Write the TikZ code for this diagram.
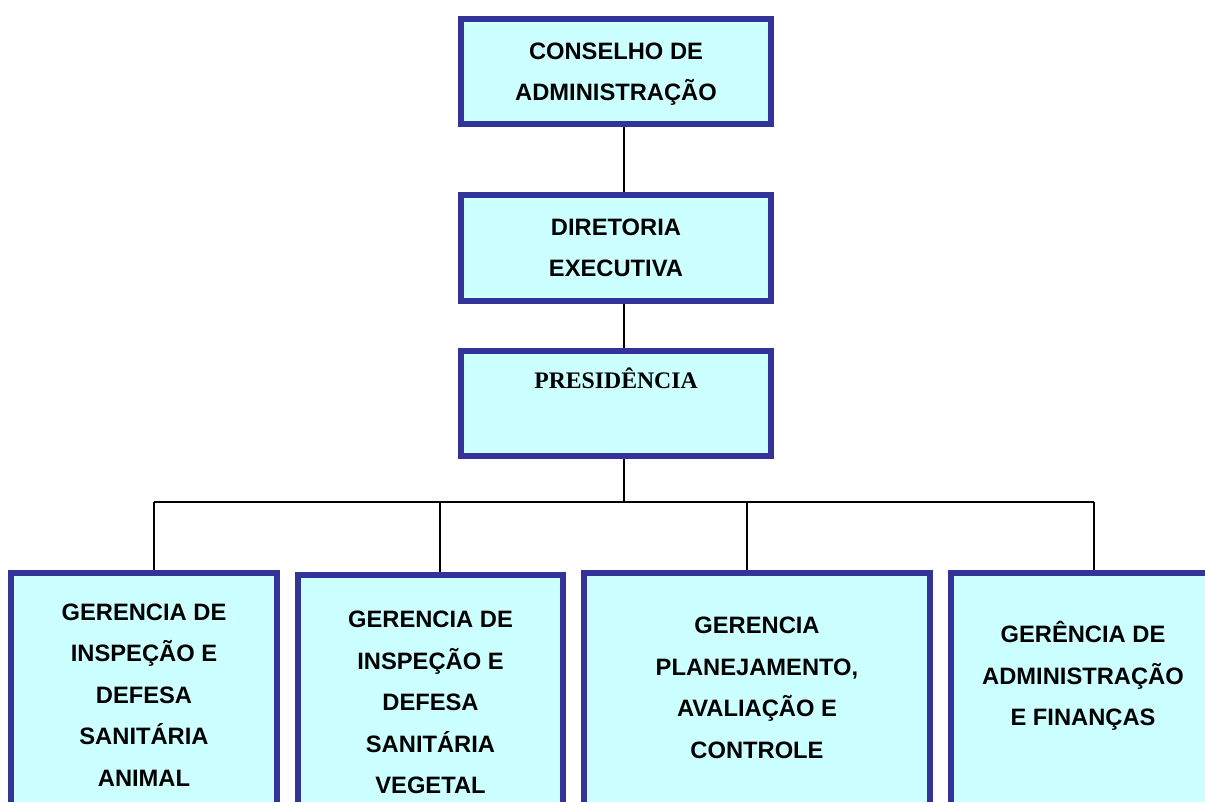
\documentclass[tikz,border=0pt]{standalone}
\usepackage{fontspec}
\setmainfont{Liberation Sans}
\newfontfamily\serifbf{Liberation Serif}
\usepackage{xcolor}
\usetikzlibrary{positioning}
\definecolor{boxfill}{HTML}{CCFFFF}
\definecolor{boxline}{HTML}{333399}
\tikzset{
    org_box/.style={draw=boxline, fill=boxfill, line width=3.4pt, inner sep=0pt},
    org_text/.style={align=center, inner sep=0pt, font=\fontsize{13.5}{23.6}\selectfont\bfseries},
    link_line/.style={line width=1pt, black}
}

\begin{document}
\begin{tikzpicture}[x=0.2mm, y=-0.2mm]
    \useasboundingbox (0,0) rectangle (1205,802);
    \clip (0,0) rectangle (1205,802);
    % Upper chain
    \node[org_box, org_text, text depth=0pt, minimum width=62mm, minimum height=21mm] (conselho) at (616,71.5) {CONSELHO DE\\ADMINISTRAÇÃO};
    \node[org_box, org_text, minimum width=62mm, minimum height=21.2mm] (diretoria) at (616,248) {DIRETORIA\\EXECUTIVA};
    \node[org_box, minimum width=62mm, minimum height=21mm] (presidencia) at (616,403.5) {};
    \node[org_text, font=\serifbf\bfseries\fontsize{13.5}{16}\selectfont] (presidencia_txt) at (616,378) {PRESIDÊNCIA};
    % Gerencias (cut by the page edge)
    \node[org_box, anchor=north, minimum width=53.2mm, minimum height=60mm] (ganimal) at (144,570) {};
    \node[org_box, anchor=north, minimum width=53mm, minimum height=60mm] (gvegetal) at (430.5,572) {};
    \node[org_box, anchor=north, minimum width=69.2mm, minimum height=60mm] (gplan) at (757,570) {};
    \node[org_box, anchor=north, minimum width=52.8mm, minimum height=60mm] (gadmin) at (1083,570) {};
    \node[org_text] (ganimal_txt) at (144,695) {GERENCIA DE\\INSPEÇÃO E\\DEFESA\\SANITÁRIA\\ANIMAL};
    \node[org_text] (gvegetal_txt) at (430.5,702.5) {GERENCIA DE\\INSPEÇÃO E\\DEFESA\\SANITÁRIA\\VEGETAL};
    \node[org_text] (gplan_txt) at (757,688) {GERENCIA\\PLANEJAMENTO,\\AVALIAÇÃO E\\CONTROLE};
    \node[org_text] (gadmin_txt) at (1083,676) {GERÊNCIA DE\\ADMINISTRAÇÃO\\E FINANÇAS};
    % Connectors
    \coordinate (spine) at (624,0);
    \coordinate (drop1) at (154,502);
    \coordinate (drop2) at (440,502);
    \coordinate (drop3) at (747,502);
    \coordinate (drop4) at (1094,502);
    \draw[link_line] (conselho.south -| spine) -- (diretoria.north -| spine);
    \draw[link_line] (diretoria.south -| spine) -- (presidencia.north -| spine);
    \draw[link_line] (presidencia.south -| spine) -- (drop1 -| spine);
    \draw[link_line] (drop1) -- (drop4);
    \foreach \d/\b in {drop1/ganimal, drop2/gvegetal, drop3/gplan, drop4/gadmin}
        \draw[link_line] (\d) -- (\d |- \b.north);
\end{tikzpicture}
\end{document}
